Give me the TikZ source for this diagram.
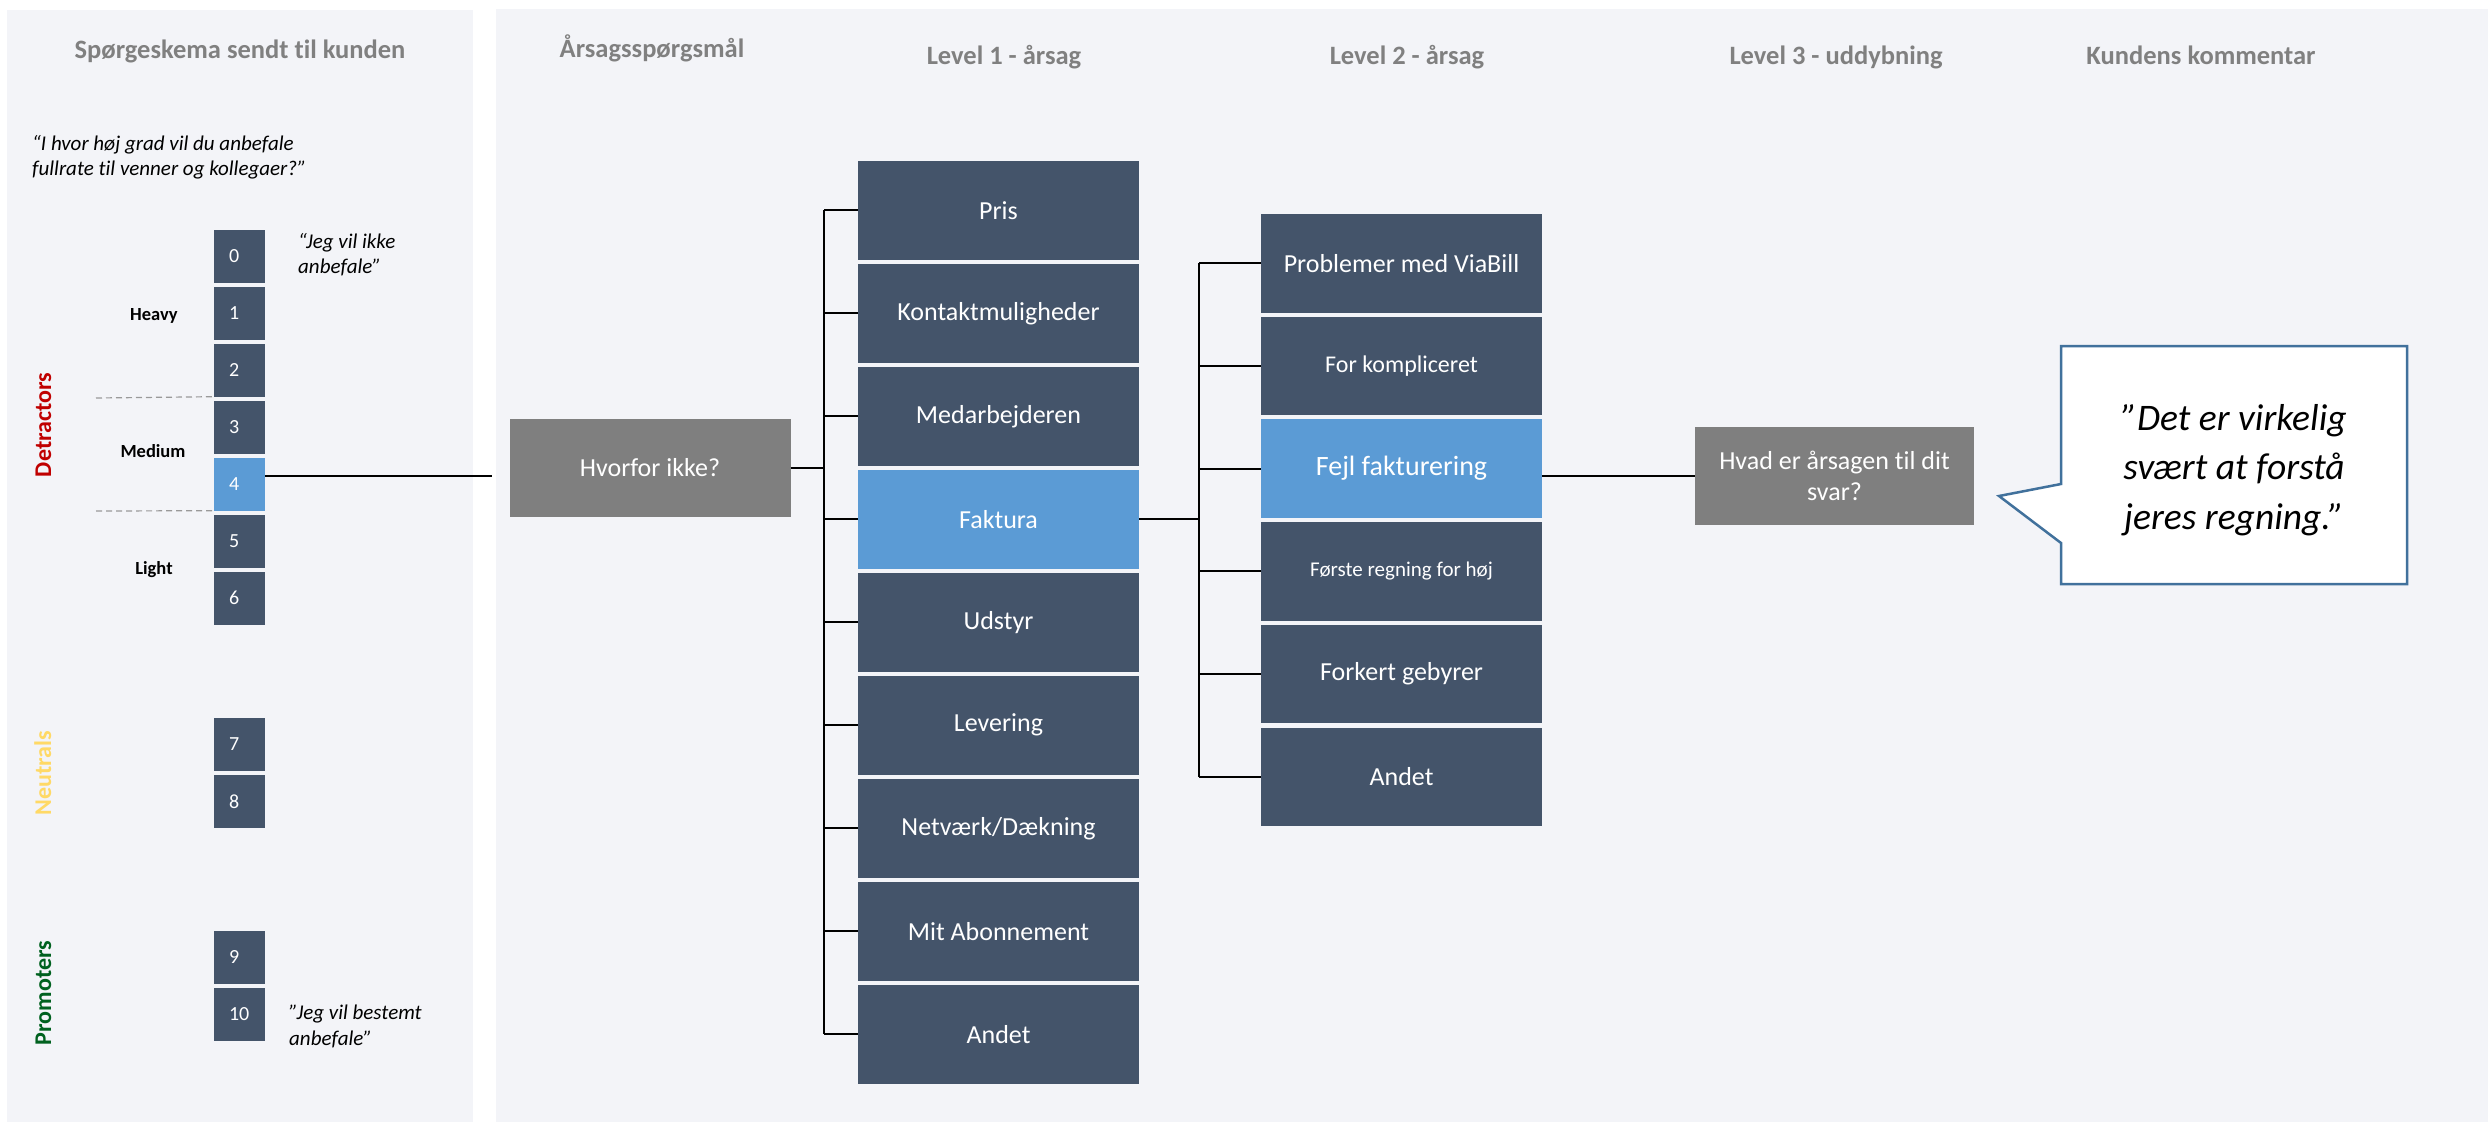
\documentclass[tikz,border=0pt]{standalone}
\usepackage{fontspec}
\setmainfont{Carlito}[Ligatures=NoCommon]
\definecolor{panel}{HTML}{F3F4F8}
\definecolor{slate}{HTML}{44546A}
\definecolor{hilite}{HTML}{5B9BD5}
\definecolor{askgrey}{HTML}{7F7F7F}
\definecolor{headgrey}{HTML}{808080}
\definecolor{detred}{HTML}{C00000}
\definecolor{neuyellow}{HTML}{FFD966}
\definecolor{promgreen}{HTML}{00611F}
\definecolor{bubbleline}{HTML}{41719C}
\begin{document}
\begin{tikzpicture}[x=1pt,y=-1pt,
  scorebox/.style={rectangle, fill=slate, minimum width=51pt, minimum height=52.5pt,
    inner sep=0pt, text width=21pt, align=left, text=white, font=\fontsize{20}{24}\selectfont},
  reasonbox/.style={rectangle, fill=slate, minimum width=281pt, minimum height=98.5pt,
    inner sep=0pt, text=white, align=center, font=\fontsize{26}{31}\selectfont},
  askbox/.style={rectangle, fill=askgrey, minimum width=281pt, minimum height=98pt,
    inner sep=0pt, text=white, align=center, font=\fontsize{26}{31}\selectfont},
  chosen/.style={fill=hilite},
  heading/.style={anchor=base, text=headgrey, font=\bfseries\fontsize{26.5}{32}\selectfont},
  band/.style={anchor=base, font=\bfseries\fontsize{18.5}{22}\selectfont},
  group/.style={anchor=base, rotate=90, inner sep=0pt, font=\bfseries\fontsize{24}{29}\selectfont},
  quote/.style={anchor=north west, align=left, inner sep=0pt, font=\itshape\fontsize{21}{25.5}\selectfont},
  conn/.style={draw=black, line width=1.8pt},
  divider/.style={draw=black!40, line width=1.2pt, dash pattern=on 6pt off 4pt}
]
% canvas and the two panels
\useasboundingbox (0,0) rectangle (2488,1122);
\fill[white] (0,0) rectangle (2488,1122);
\fill[panel] (7,10) rectangle (473,1122);
\fill[panel] (496,9) rectangle (2488,1122);

% column headings
\node[heading] (h0) at (240,58) {Spørgeskema sendt til kunden};
\node[heading] (h1) at (652,57) {Årsagsspørgsmål};
\node[heading] (h2) at (1004,64) {Level 1 - årsag};
\node[heading] (h3) at (1407,64) {Level 2 - årsag};
\node[heading] (h4) at (1836,64) {Level 3 - uddybning};
\node[heading] (h5) at (2201,64) {Kundens kommentar};

% survey question
\node[quote] (question) at (32,135) {“I hvor høj grad vil du anbefale\\fullrate til venner og kollegaer?”};

% score scale 0-10
\node[scorebox] (s0) at (239.5,256.25) {0};
\node[scorebox] (s1) at (239.5,313.25) {1};
\node[scorebox] (s2) at (239.5,370.25) {2};
\node[scorebox] (s3) at (239.5,427.25) {3};
\node[scorebox, chosen] (s4) at (239.5,484.25) {4};
\node[scorebox] (s5) at (239.5,541.25) {5};
\node[scorebox] (s6) at (239.5,598.25) {6};
\node[scorebox] (s7) at (239.5,744.25) {7};
\node[scorebox] (s8) at (239.5,801.25) {8};
\node[scorebox] (s9) at (239.5,957.25) {9};
\node[scorebox] (s10) at (239.5,1014.25) {10};

\node[quote] (low) at (298,233) {“Jeg vil ikke\\anbefale”};
\node[quote] (high) at (289,1005) {”Jeg vil bestemt\\anbefale”};

% detractor bands
\node[band] (heavy) at (154,320) {Heavy};
\node[band] (medium) at (153,457) {Medium};
\node[band] (light) at (154,574) {Light};
\draw[divider] (96,398) -- (s2.south west);
\draw[divider] (96,511) -- (s4.south west);

% customer groups
\node[group, text=detred] (det) at (51,425) {Detractors};
\node[group, text=neuyellow] (neu) at (51,773.5) {Neutrals};
\node[group, text=promgreen] (pro) at (51,993) {Promoters};

% follow-up questions
\node[askbox] (why) at (650,468) {Hvorfor ikke?};
\node[askbox, minimum width=279pt] (what) at (1834.5,476) {Hvad er årsagen til dit\\svar?};

% level 1 reasons
\node[reasonbox] (a1) at (998.5,210.25) {Pris};
\node[reasonbox] (a2) at (998.5,313.25) {Kontaktmuligheder};
\node[reasonbox] (a3) at (998.5,416.25) {Medarbejderen};
\node[reasonbox, chosen] (a4) at (998.5,519.25) {Faktura};
\node[reasonbox] (a5) at (998.5,622.25) {Udstyr};
\node[reasonbox] (a6) at (998.5,725.25) {Levering};
\node[reasonbox] (a7) at (998.5,828.25) {Netværk/Dækning};
\node[reasonbox] (a8) at (998.5,931.25) {Mit Abonnement};
\node[reasonbox] (a9) at (998.5,1034.25) {Andet};

% level 2 reasons
\node[reasonbox] (b1) at (1401.5,263.25) {Problemer med ViaBill};
\node[reasonbox, font=\fontsize{24}{29}\selectfont] (b2) at (1401.5,365.95) {For kompliceret};
\node[reasonbox, chosen, font=\fontsize{28}{33}\selectfont] (b3) at (1401.5,468.65) {Fejl fakturering};
\node[reasonbox, font=\fontsize{21}{25}\selectfont] (b4) at (1401.5,571.35) {Første regning for høj};
\node[reasonbox] (b5) at (1401.5,674.05) {Forkert gebyrer};
\node[reasonbox] (b6) at (1401.5,776.75) {Andet};

% score 4 leads on to the follow-up question
\coordinate (scoreout) at (491.7,476);
\draw[conn] (s4.east |- scoreout) -- (scoreout);

% tree from the first question to level 1
\coordinate (trunk1) at (824,468);
\draw[conn] (why.east) -- (trunk1);
\draw[conn] (a1.west -| trunk1) -- (a9.west -| trunk1);
\foreach \k in {1,...,9}
  \draw[conn] (a\k.west -| trunk1) -- (a\k.west);

% tree from Faktura to level 2
\coordinate (trunk2) at (1199,519.25);
\draw[conn] (a4.east) -- (trunk2);
\draw[conn] (b1.west -| trunk2) -- (b6.west -| trunk2);
\foreach \k in {1,...,6}
  \draw[conn] (b\k.west -| trunk2) -- (b\k.west);

% level 2 to level 3
\draw[conn] (b3.east |- what.west) -- (what.west);

% customer comment callout
\draw[bubbleline, fill=white, line width=2.5pt, line join=miter]
  (2061,346) -- (2407,346) -- (2407,584) -- (2061,584) -- (2061,543)
  -- (1999,496) -- (2061,484) -- cycle;
\node[align=center, font=\itshape\fontsize{37.5}{49.5}\selectfont] (comment) at (2234,470)
  {”Det er virkelig\\svært at forstå\\jeres regning.”};
\end{tikzpicture}
\end{document}
